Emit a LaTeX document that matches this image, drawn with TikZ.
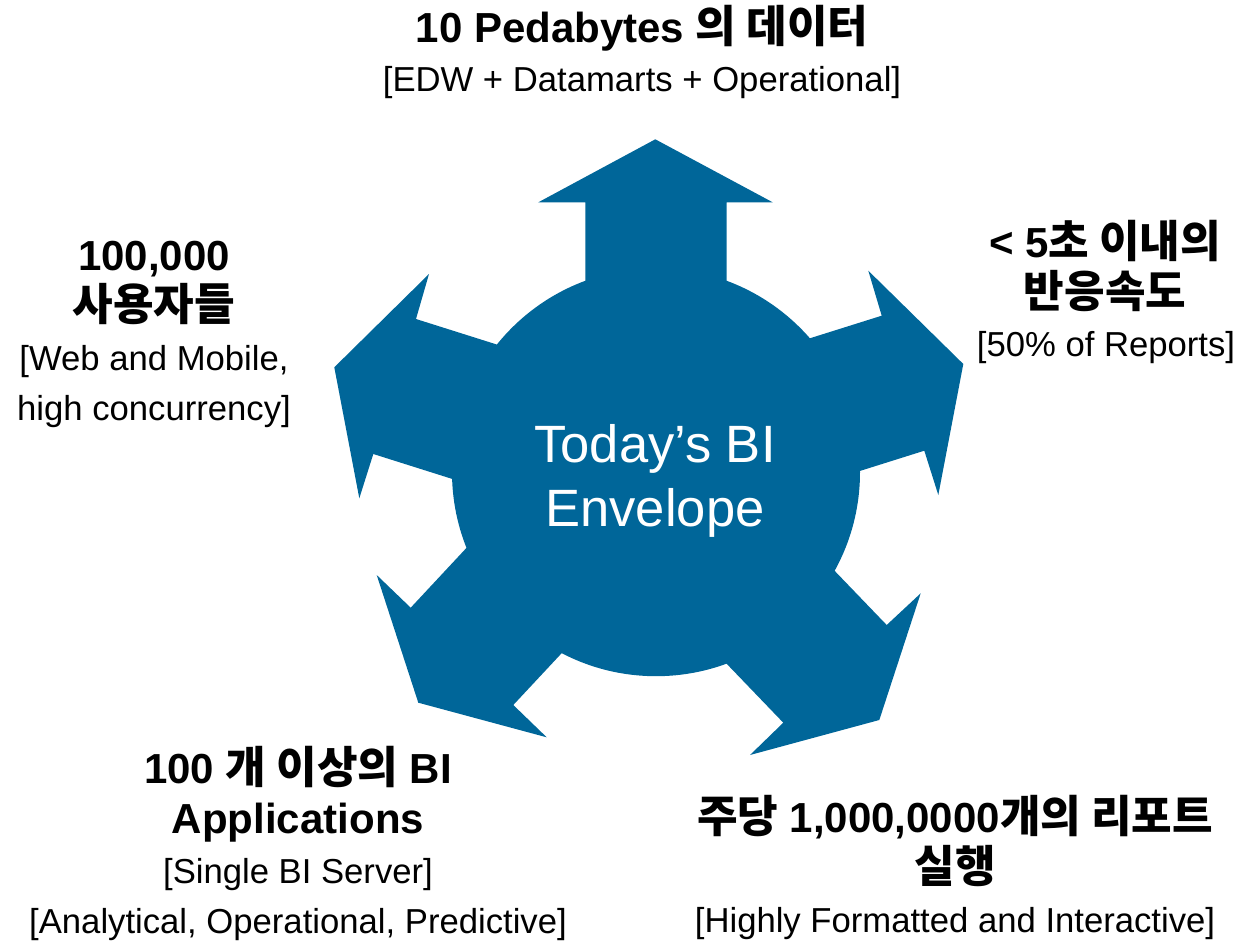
\documentclass[tikz,border=0pt]{standalone}
\usepackage{fontspec}
\setmainfont{Liberation Sans}
\newfontfamily\kr[Scale=1.05]{Noto Sans CJK KR}
\definecolor{envblue}{RGB}{0,102,153}
\tikzset{
  hd/.style={anchor=base, inner sep=0pt, font=\fontsize{31.5pt}{37.5pt}\selectfont\bfseries},
  sub/.style={anchor=base, inner sep=0pt, font=\fontsize{26pt}{37.5pt}\selectfont},
  ctr/.style={anchor=base, inner sep=0pt, text=white, font=\fontsize{39.4pt}{48pt}\selectfont},
  arr/.style={fill=envblue, draw=none}
}
\begin{document}
\begin{tikzpicture}[x=0.75pt,y=-0.75pt]
\useasboundingbox (0,0) rectangle (1236,942);
% core circle
\node[circle, fill=envblue, inner sep=0pt, minimum size=306pt] (core) at (656,472.2) {};
% arrows
\fill[arr] (655.3,139.3) -- (772.7,202.3) -- (726.7,202.3) -- (726.7,400) -- (585.3,400) -- (585.3,202.3) -- (538.3,202.3) -- cycle;
\fill[arr] (963.3,364) -- (938.3,495) -- (924.3,450.7) -- (781.3,495.7) -- (738.6,360.7) -- (881.7,315.7) -- (868.3,270.7) -- cycle;
\fill[arr] (334.3,367.3) -- (429,274) -- (416,319) -- (559.1,364.2) -- (516.4,499.2) -- (373.3,454) -- (359.3,498.3) -- cycle;
\fill[arr] (418.3,702.7) -- (376.7,575) -- (410.7,607.7) -- (513,498) -- (615.6,595.4) -- (513.3,705) -- (546.7,737.3) -- cycle;
\fill[arr] (879.3,720) -- (920.7,593.3) -- (886.7,625) -- (782.7,516.8) -- (679.4,614.6) -- (783.3,722.7) -- (750,755) -- cycle;
% centre text
\node[ctr] (c1) at (655,462) {Today’s BI};
\node[ctr] (c2) at (655,526) {Envelope};
% top
\node[hd] (t1) at (642,43) {10 Pedabytes {\kr 의 데이터}};
\node[sub] (t2) at (642,92) {[EDW + Datamarts + Operational]};
% left
\node[hd] (l1) at (154,270) {100,000};
\node[hd] (l2) at (154,320) {\kr 사용자들};
\node[sub] (l3) at (154,370) {[Web and Mobile,};
\node[sub] (l4) at (154,420) {high concurrency]};
% right
\node[hd] (r1) at (1105,257) {< 5{\kr 초 이내의}};
\node[hd] (r2) at (1105,307) {\kr 반응속도};
\node[sub] (r3) at (1106,356) {[50\% of Reports]};
% bottom left
\node[hd] (bl1) at (298,783) {100 {\kr 개 이상의} BI};
\node[hd] (bl2) at (298,833) {Applications};
\node[sub] (bl3) at (298,883) {[Single BI Server]};
\node[sub] (bl4) at (298,933) {[Analytical, Operational, Predictive]};
% bottom right
\node[hd] (br1) at (955,832) {{\kr 주당} 1,000,0000{\kr 개의 리포트}};
\node[hd] (br2) at (955,882) {\kr 실행};
\node[sub] (br3) at (955,932) {[Highly Formatted and Interactive]};
\end{tikzpicture}
\end{document}
